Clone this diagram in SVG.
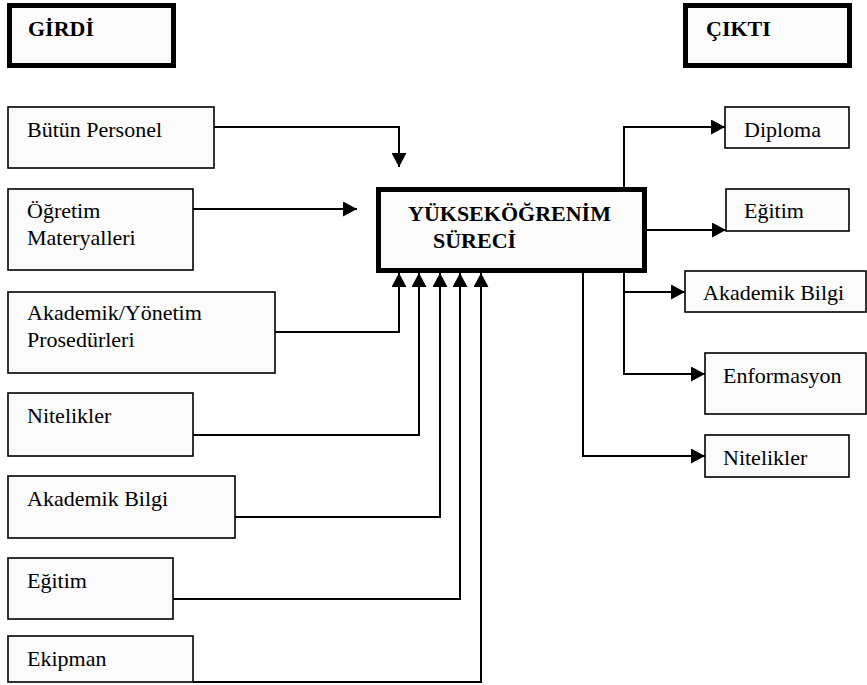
<svg xmlns="http://www.w3.org/2000/svg" width="867" height="685" viewBox="0 0 867 685">
<defs>
<marker id="ah" markerUnits="userSpaceOnUse" markerWidth="15" markerHeight="15" refX="14" refY="7.5" orient="auto"><path d="M0,0 L14,7.5 L0,15 z" fill="#000"/></marker>
<style>
.box{fill:#fbfbfb;stroke:#000;stroke-width:1.6}
.title{fill:#fbfbfb;stroke:#000;stroke-width:5}
text{font-family:'Times New Roman','Liberation Serif',serif;font-size:22px;fill:#000}
.b{font-weight:bold}
.c{fill:none;stroke:#000;stroke-width:2}
</style>
</defs>
<rect width="867" height="685" fill="#fff"/>
<g id="girdi"><rect class="title" x="9.5" y="5.5" width="164" height="60"/><text class="b" x="28" y="36">GİRDİ</text></g>
<g id="cikti"><rect class="title" x="685.5" y="5.5" width="164" height="60"/><text class="b" x="706" y="36">ÇIKTI</text></g>
<g id="connectors">
<path class="c" d="M214,127 H399 V167" marker-end="url(#ah)"/>
<path class="c" d="M193,209 H357" marker-end="url(#ah)"/>
<path class="c" d="M275,332 H399 V273" marker-end="url(#ah)"/>
<path class="c" d="M193,435 H419 V273" marker-end="url(#ah)"/>
<path class="c" d="M235,517 H440 V273" marker-end="url(#ah)"/>
<path class="c" d="M173,599 H460 V273" marker-end="url(#ah)"/>
<path class="c" d="M193,682 H481 V273" marker-end="url(#ah)"/>
<path class="c" d="M624,187 V127 H725" marker-end="url(#ah)"/>
<path class="c" d="M647,230 H726" marker-end="url(#ah)"/>
<path class="c" d="M624,273 V374 H705" marker-end="url(#ah)"/>
<path class="c" d="M624,292 H685" marker-end="url(#ah)"/>
<path class="c" d="M583,273 V456 H705" marker-end="url(#ah)"/>
</g>
<g id="surec"><rect x="378.5" y="189.5" width="266" height="81" fill="#fbfbfb" stroke="#000" stroke-width="5"/><text class="b" x="408" y="221">YÜKSEKÖĞRENİM</text><text class="b" x="433" y="248">SÜRECİ</text></g>
<g id="in-personel"><rect class="box" x="8" y="107" width="206" height="61"/><text x="27" y="137">Bütün Personel</text></g>
<g id="in-materyal"><rect class="box" x="8" y="189" width="185" height="81"/><text x="27" y="218">Öğretim</text><text x="27" y="245">Materyalleri</text></g>
<g id="in-prosedur"><rect class="box" x="8" y="292" width="267" height="81"/><text x="27" y="320">Akademik/Yönetim</text><text x="27" y="347">Prosedürleri</text></g>
<g id="in-nitelikler"><rect class="box" x="8" y="393" width="185" height="63"/><text x="27" y="423">Nitelikler</text></g>
<g id="in-akademik"><rect class="box" x="8" y="476" width="227" height="62"/><text x="27" y="506">Akademik Bilgi</text></g>
<g id="in-egitim"><rect class="box" x="8" y="558" width="165" height="61"/><text x="27" y="588">Eğitim</text></g>
<g id="in-ekipman"><rect class="box" x="8" y="636" width="185" height="46"/><text x="27" y="666">Ekipman</text></g>
<g id="out-diploma"><rect class="box" x="725" y="107" width="124" height="41"/><text x="744" y="137">Diploma</text></g>
<g id="out-egitim"><rect class="box" x="726" y="189" width="123" height="42"/><text x="744" y="218">Eğitim</text></g>
<g id="out-akademik"><rect class="box" x="685" y="271" width="181" height="41"/><text x="703" y="300">Akademik Bilgi</text></g>
<g id="out-enformasyon"><rect class="box" x="705" y="353" width="161" height="61"/><text x="723" y="383">Enformasyon</text></g>
<g id="out-nitelikler"><rect class="box" x="705" y="435" width="144" height="42"/><text x="723" y="465">Nitelikler</text></g>
</svg>
